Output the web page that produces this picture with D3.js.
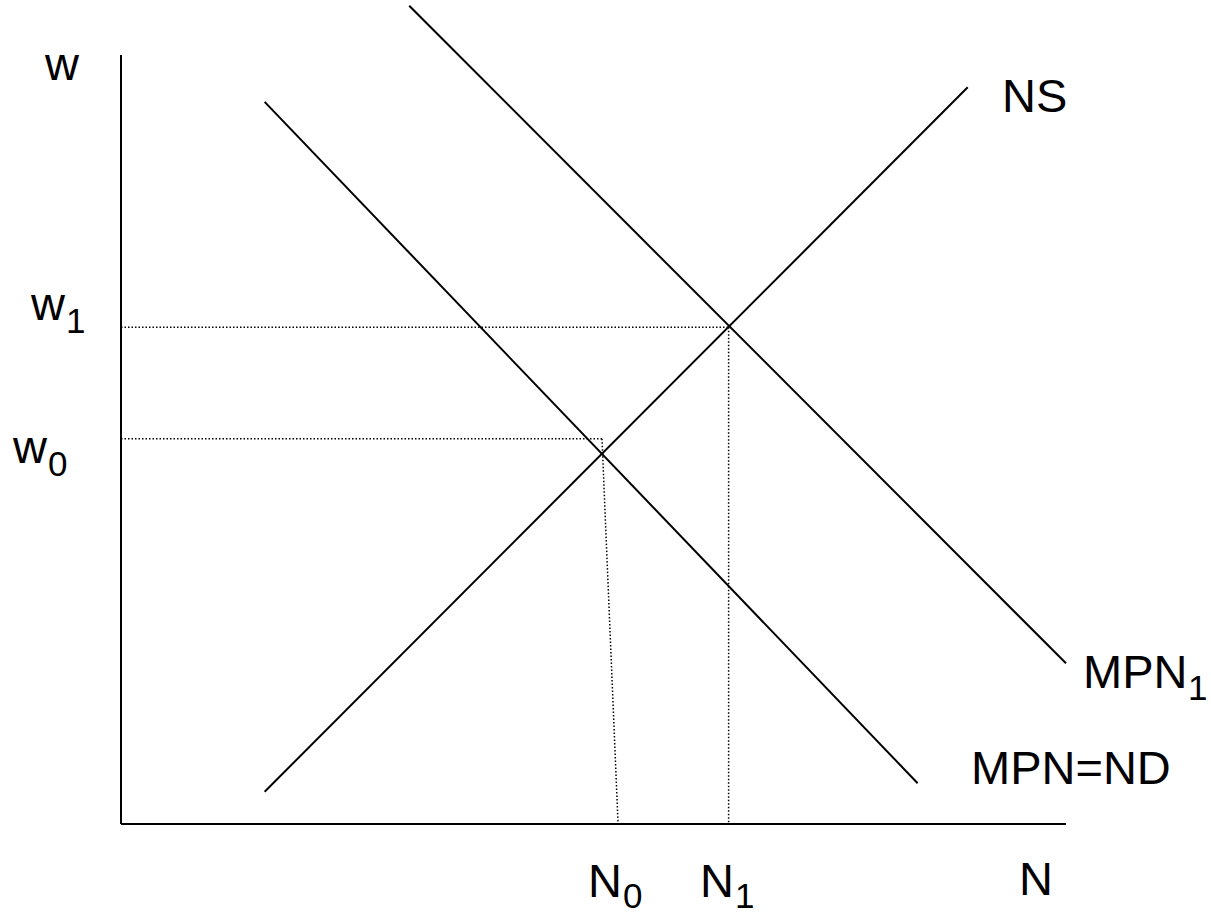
<!DOCTYPE html>
<html><head><meta charset="utf-8">
<script src="https://cdn.jsdelivr.net/npm/d3@7"></script>
<style>body{margin:0;background:#fff}svg{display:block}text{font-family:"Liberation Sans",Arial,sans-serif;fill:#000}</style>
</head><body>
<div id="chart"></div>
<script>
// Curves in abstract axis units (x: 0-100 labour N, y: 0-100 wage w)
const curveNames = ["NS", "MPN=ND", "MPN1"];
const curveX = [[15.2, 89.6], [15.2, 84.3], [30.5, 100]];
const curveY = [[4.2, 95.8], [93.9, 5.3], [106.4, 20.9]];
// Equilibrium guide lines
const guideNames = ["w1", "w0"];
const guideW = [64.6, 50.1];
const guideNTop = [64.3, 50.9];
const guideNBottom = [64.3, 52.6];

const W = 1211, H = 916;
const svg = d3.select("#chart").append("svg").attr("width", W).attr("height", H);
const x = d3.scaleLinear().domain([0, 100]).range([121, 1066]);
const y = d3.scaleLinear().domain([0, 100]).range([824, 55]);

// axes
svg.append("line").attr("x1", x(0)).attr("y1", y(0)).attr("x2", x(0)).attr("y2", y(100))
  .attr("stroke", "#000").attr("stroke-width", 2);
svg.append("line").attr("x1", x(0)).attr("y1", y(0)).attr("x2", x(100)).attr("y2", y(0))
  .attr("stroke", "#000").attr("stroke-width", 2);

// dotted guides
guideNames.forEach((n, i) => {
  svg.append("line").attr("x1", x(0)).attr("y1", y(guideW[i])).attr("x2", x(guideNTop[i])).attr("y2", y(guideW[i]))
    .attr("stroke", "#000").attr("stroke-width", 1.5).attr("stroke-dasharray", "1.5,2");
  svg.append("line").attr("x1", x(guideNTop[i])).attr("y1", y(guideW[i])).attr("x2", x(guideNBottom[i])).attr("y2", y(0))
    .attr("stroke", "#000").attr("stroke-width", 1.5).attr("stroke-dasharray", "1.5,2");
});

// curves
const line = d3.line().x(d => x(d[0])).y(d => y(d[1]));
curveNames.forEach((n, i) => {
  svg.append("path").attr("d", line(curveX[i].map((v, j) => [v, curveY[i][j]])))
    .attr("fill", "none").attr("stroke", "#000").attr("stroke-width", 2);
});

// labels
function lab(t, px, py, size) {
  svg.append("text").attr("x", px).attr("y", py).attr("font-size", size).text(t);
}
const big = 47, small = 35;
lab("w", 45, 80, big);
lab("w", 31, 320, big); lab("1", 66, 333, small);
lab("w", 13, 463, big); lab("0", 48, 476, small);
lab("N", 588, 897, big); lab("0", 623, 908, small);
lab("N", 700, 897, big); lab("1", 735, 908, small);
lab("N", 1019, 895, big);
lab("NS", 1002, 112, big);
lab("MPN", 1083, 688, big); lab("1", 1188, 700, small);
lab("MPN=ND", 971, 784, big);
</script>
</body></html>
